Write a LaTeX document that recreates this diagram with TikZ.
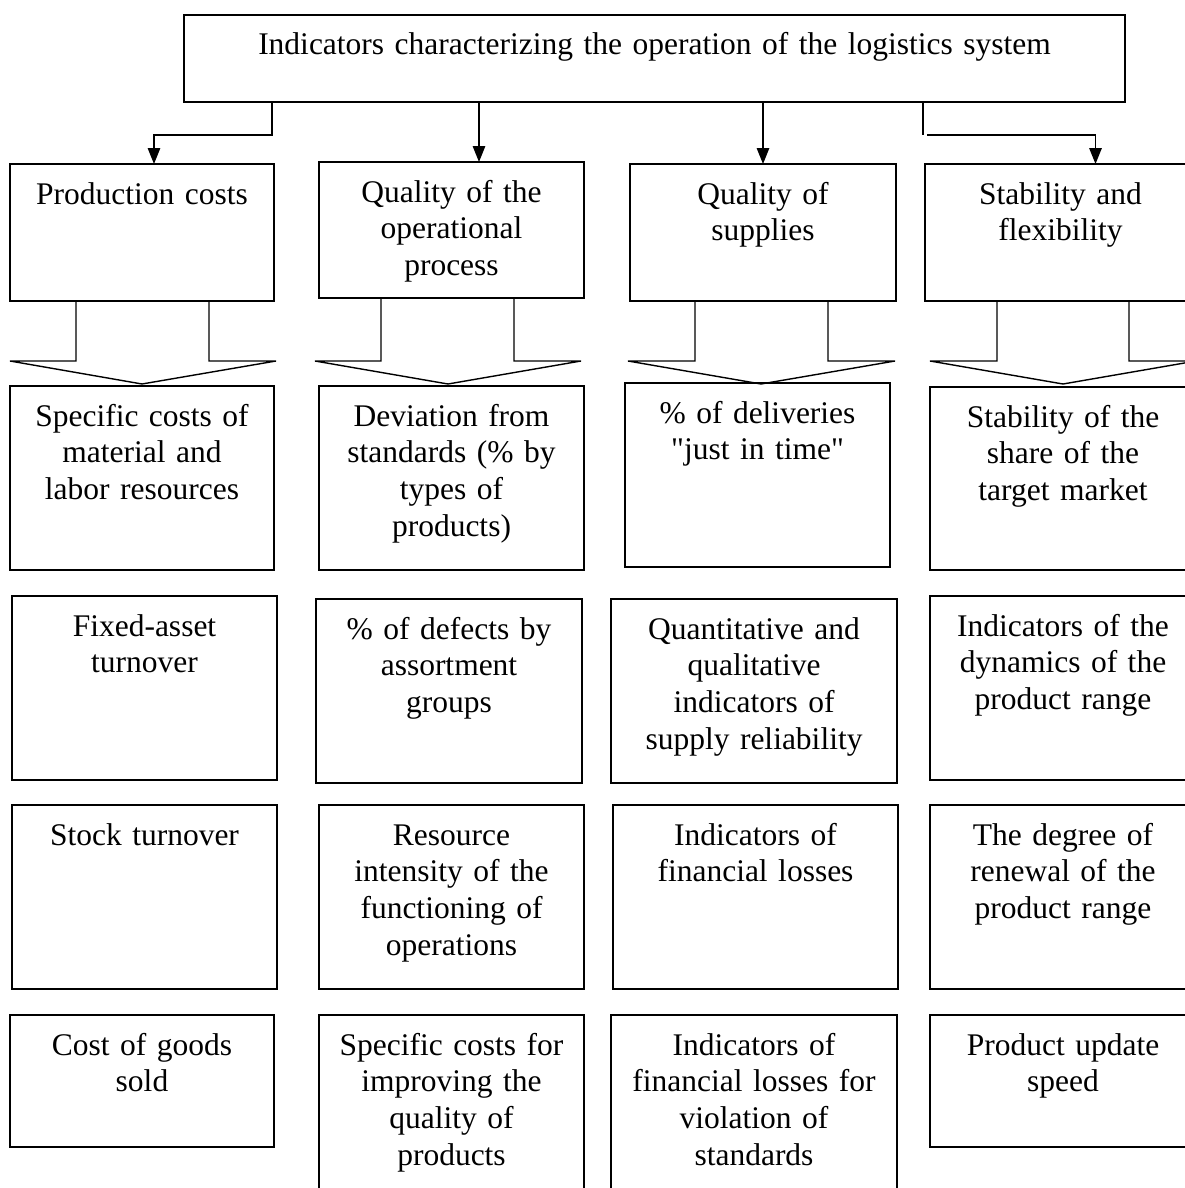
\documentclass[tikz,border=0pt]{standalone}
\usepackage{fontspec}
\setmainfont{Liberation Serif}
\usetikzlibrary{arrows.meta,calc}
\tikzset{
  box/.style={draw, line width=1.8pt, inner sep=0pt, outer sep=0pt, anchor=north west},
  lbl/.style={inner sep=0pt, outer sep=0pt, text width=290pt, align=center, anchor=base,
              font=\fontsize{31.5pt}{36.7pt}\selectfont},
  conn/.style={line width=1.4pt, -{Triangle[width=12.5pt,length=16pt]}},
  plainline/.style={line width=1.4pt},
  hollow/.style={line width=1.4pt, line join=miter}
}
\newcommand\mkbox[5]{\node[box, minimum width={#4-#2}, minimum height={#5-#3}] (#1) at (#2,#3) {};}
\newcommand\mklbl[2]{\node[lbl] (t#1) at ([yshift=-40pt]#1.north) {#2};}
\begin{document}
\begin{tikzpicture}[x=1pt,y=-1pt]
\useasboundingbox (0,0) rectangle (1184,1188);
\fill[white] (0,0) rectangle (1184,1188);
% top box
\mkbox{top}{184}{15}{1125}{102}
\node[lbl, text width=940pt] (ttop) at ([yshift=-40pt]top.north) {Indicators characterizing the operation of the logistics system};
% row 1
\mkbox{r1c1}{10}{164}{274}{301}
\mkbox{r1c2}{319}{162}{584}{298}
\mkbox{r1c3}{630}{164}{896}{301}
\mkbox{r1c4}{925}{164}{1196}{301}
% row 2
\mkbox{r2c1}{10}{386}{274}{570}
\mkbox{r2c2}{319}{386}{584}{570}
\mkbox{r2c3}{625}{383}{890}{567}
\mkbox{r2c4}{930}{387}{1196}{570}
% row 3
\mkbox{r3c1}{12}{596}{277}{780}
\mkbox{r3c2}{316}{599}{582}{783}
\mkbox{r3c3}{611}{599}{897}{783}
\mkbox{r3c4}{930}{596}{1196}{780}
% row 4
\mkbox{r4c1}{12}{805}{277}{989}
\mkbox{r4c2}{319}{805}{584}{989}
\mkbox{r4c3}{613}{805}{898}{989}
\mkbox{r4c4}{930}{805}{1196}{989}
% row 5
\mkbox{r5c1}{10}{1015}{274}{1147}
\mkbox{r5c2}{319}{1015}{584}{1200}
\mkbox{r5c3}{611}{1015}{897}{1200}
\mkbox{r5c4}{930}{1015}{1196}{1147}
% labels
\mklbl{r1c1}{Production costs}
\mklbl{r1c2}{Quality of the\\operational\\process}
\mklbl{r1c3}{Quality of\\supplies}
\mklbl{r1c4}{Stability and\\flexibility}
\mklbl{r2c1}{Specific costs of\\material and\\labor resources}
\mklbl{r2c2}{Deviation from\\standards (\% by\\types of\\products)}
\mklbl{r2c3}{\% of deliveries\\\textquotedbl just in time\textquotedbl}
\mklbl{r2c4}{Stability of the\\share of the\\target market}
\mklbl{r3c1}{Fixed-asset\\turnover}
\mklbl{r3c2}{\% of defects by\\assortment\\groups}
\mklbl{r3c3}{Quantitative and\\qualitative\\indicators of\\supply reliability}
\mklbl{r3c4}{Indicators of the\\dynamics of the\\product range}
\mklbl{r4c1}{Stock turnover}
\mklbl{r4c2}{Resource\\intensity of the\\functioning of\\operations}
\mklbl{r4c3}{Indicators of\\financial losses}
\mklbl{r4c4}{The degree of\\renewal of the\\product range}
\mklbl{r5c1}{Cost of goods\\sold}
\mklbl{r5c2}{Specific costs for\\improving the\\quality of\\products}
\mklbl{r5c3}{Indicators of\\financial losses for\\violation of\\standards}
\mklbl{r5c4}{Product update\\speed}
% connectors from top box
\draw[conn] ([xshift=88pt]top.south west) -- ++(0,33) -| ([xshift=12pt]r1c1.north);
\coordinate (e2) at ([xshift=27.5pt]r1c2.north);
\draw[conn] (e2 |- top.south) -- (e2);
\draw[conn] (r1c3.north |- top.south) -- (r1c3.north);
\coordinate (s4) at ([xshift=-202pt]top.south east);
\coordinate (e4) at ([xshift=35pt]r1c4.north);
\draw[plainline] (s4) -- ++(0,33);
\draw[conn] ($(s4)+(4,33)$) -| (e4);
% hollow block arrows
\draw[hollow] ([xshift=66pt]r1c1.south west) -- ++(0,60) -- ++(-66,0) -- ++(132,23) -- ++(134,-23) -- ++(-67,0) -- ++(0,-60);
\draw[hollow] ([xshift=62pt]r1c2.south west) -- ++(0,63) -- ++(-66,0) -- ++(133,23) -- ++(133,-23) -- ++(-67,0) -- ++(0,-63);
\draw[hollow] ([xshift=65pt]r1c3.south west) -- ++(0,60) -- ++(-67,0) -- ++(133,23) -- ++(134,-23) -- ++(-67,0) -- ++(0,-60);
\draw[hollow] ([xshift=72pt]r1c4.south west) -- ++(0,60) -- ++(-67,0) -- ++(133,23) -- ++(133,-23) -- ++(-67,0) -- ++(0,-60);
\end{tikzpicture}
\end{document}
